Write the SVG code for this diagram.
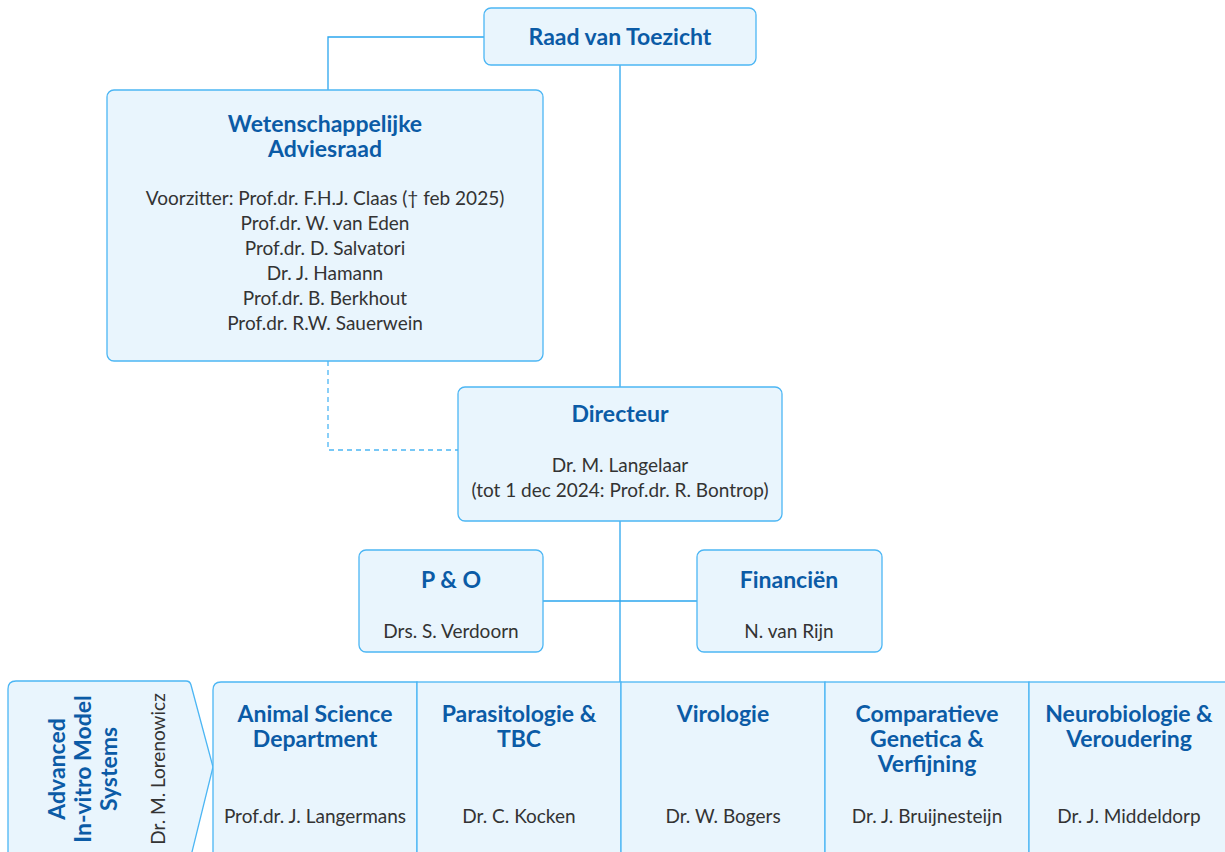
<svg xmlns="http://www.w3.org/2000/svg" width="1225" height="852" viewBox="0 0 1225 852">
<style>
.box{fill:#e9f5fd;stroke:#4cb6f4;stroke-width:1.3}
.ln{fill:none;stroke:#2ba6ee;stroke-width:1.3}
.dash{fill:none;stroke:#4cb6f4;stroke-width:1.3;stroke-dasharray:5 4}
.t{font-family:Lato,"Open Sans",sans-serif;font-weight:bold;font-size:23px;fill:#0b5ba6;text-anchor:middle}
.n{font-family:Lato,"Open Sans",sans-serif;font-size:19px;fill:#333333;text-anchor:middle}
</style>
<rect width="1225" height="852" fill="#ffffff"/>
<g id="connectors">
<path class="ln" d="M484 37H328V90"/>
<path class="ln" d="M620 65V387"/>
<path class="ln" d="M620 521V682"/>
<path class="ln" d="M543 601H697"/>
<path class="dash" d="M328 361V450H458"/>
</g>
<g id="raad">
<rect class="box" x="484" y="8" width="272" height="57" rx="7"/>
<text class="t" x="620" y="45">Raad van Toezicht</text>
</g>
<g id="adviesraad">
<rect class="box" x="107" y="90" width="436" height="271" rx="7"/>
<text class="t" x="325" y="132">Wetenschappelijke</text>
<text class="t" x="325" y="157">Adviesraad</text>
<text class="n" x="325" y="205">Voorzitter: Prof.dr. F.H.J. Claas († feb 2025)</text>
<text class="n" x="325" y="230">Prof.dr. W. van Eden</text>
<text class="n" x="325" y="255">Prof.dr. D. Salvatori</text>
<text class="n" x="325" y="280">Dr. J. Hamann</text>
<text class="n" x="325" y="305">Prof.dr. B. Berkhout</text>
<text class="n" x="325" y="330">Prof.dr. R.W. Sauerwein</text>
</g>
<g id="directeur">
<rect class="box" x="458" y="387" width="324" height="134" rx="7"/>
<text class="t" x="620" y="422">Directeur</text>
<text class="n" x="620" y="472">Dr. M. Langelaar</text>
<text class="n" x="620" y="497">(tot 1 dec 2024: Prof.dr. R. Bontrop)</text>
</g>
<g id="po">
<rect class="box" x="359" y="550" width="184" height="102" rx="7"/>
<text class="t" x="451" y="588">P &amp; O</text>
<text class="n" x="451" y="638">Drs. S. Verdoorn</text>
</g>
<g id="financien">
<rect class="box" x="697" y="550" width="185" height="102" rx="7"/>
<text class="t" x="789" y="588">Financiën</text>
<text class="n" x="789" y="638">N. van Rijn</text>
</g>
<g id="advanced">
<path class="box" d="M8 860V689Q8 681 16 681H186Q190 681 191 685L213 767L190 860"/>
<text class="t" transform="translate(65 769) rotate(-90)">Advanced</text>
<text class="t" transform="translate(91 769) rotate(-90)">In-vitro Model</text>
<text class="t" transform="translate(117 769) rotate(-90)">Systems</text>
<text class="n" transform="translate(165 769) rotate(-90)">Dr. M. Lorenowicz</text>
</g>
<g id="animal">
<path class="box" d="M417 682H221Q213 682 213 690V860H417Z"/>
<text class="t" x="315" y="722">Animal Science</text>
<text class="t" x="315" y="747">Department</text>
<text class="n" x="315" y="823">Prof.dr. J. Langermans</text>
</g>
<g id="parasitologie">
<rect class="box" x="417" y="682" width="204" height="180"/>
<text class="t" x="519" y="722">Parasitologie &amp;</text>
<text class="t" x="519" y="747">TBC</text>
<text class="n" x="519" y="823">Dr. C. Kocken</text>
</g>
<g id="virologie">
<rect class="box" x="621" y="682" width="204" height="180"/>
<text class="t" x="723" y="722">Virologie</text>
<text class="n" x="723" y="823">Dr. W. Bogers</text>
</g>
<g id="comparatieve">
<rect class="box" x="825" y="682" width="204" height="180"/>
<text class="t" x="927" y="722">Comparatieve</text>
<text class="t" x="927" y="747">Genetica &amp;</text>
<text class="t" x="927" y="772">Verfijning</text>
<text class="n" x="927" y="823">Dr. J. Bruijnesteijn</text>
</g>
<g id="neurobiologie">
<rect class="box" x="1029" y="682" width="204" height="180"/>
<text class="t" x="1129" y="722">Neurobiologie &amp;</text>
<text class="t" x="1129" y="747">Veroudering</text>
<text class="n" x="1129" y="823">Dr. J. Middeldorp</text>
</g>
</svg>
